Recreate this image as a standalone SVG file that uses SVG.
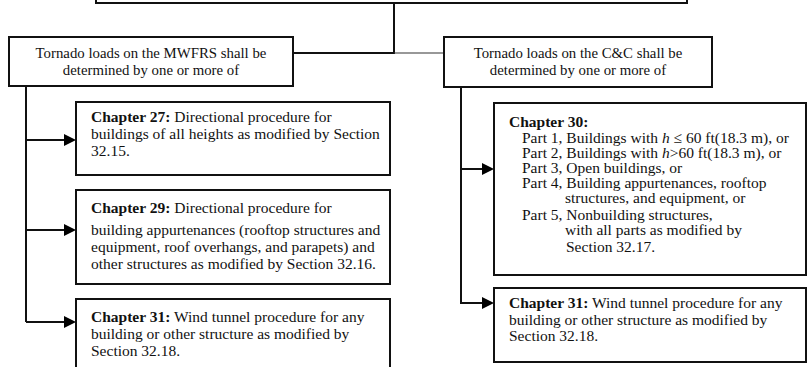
<svg xmlns="http://www.w3.org/2000/svg" width="808" height="367" viewBox="0 0 808 367">
<style>
.box{fill:#fff;stroke:#111;stroke-width:2}
.ln{fill:none;stroke:#111;stroke-width:2}
.thin{fill:none;stroke:#333;stroke-width:1.2}
.ah{fill:#000;stroke:none}
text{font-family:"Liberation Serif","Times New Roman",serif;font-size:15.5px;fill:#111}
.h{font-size:14.8px}
.c{text-anchor:middle}
.b{font-weight:bold}
</style>
<rect width="808" height="367" fill="#fff"/>
<g id="connectors">
<path class="ln" d="M394,3 V53 H293"/>
<path class="thin" d="M394,53 H444"/>
<path class="ln" d="M26,86 V322"/>
<path class="ln" d="M26,140 H66"/>
<path class="ln" d="M26,230 H66"/>
<path class="ln" d="M26,322 H66"/>
<path class="ln" d="M461,87 V303 H484"/>
<path class="ln" d="M461,169 H484"/>
<polygon class="ah" points="64,134 76,140 64,146"/>
<polygon class="ah" points="64,224 76,230 64,236"/>
<polygon class="ah" points="64,316 76,322 64,328"/>
<polygon class="ah" points="482,163 494,169 482,175"/>
<polygon class="ah" points="482,297 494,303 482,309"/>
</g>
<g id="top">
<rect class="box" x="96" y="-20" width="591" height="23"/>
</g>
<g id="mwfrs">
<rect class="box" x="9" y="37" width="284" height="49"/>
<text class="c h" x="151" y="58">Tornado loads on the MWFRS shall be</text>
<text class="c h" x="151" y="75">determined by one or more of</text>
</g>
<g id="cc">
<rect class="box" x="444" y="37" width="268" height="50"/>
<text class="c h" x="578" y="58">Tornado loads on the C&amp;C shall be</text>
<text class="c h" x="578" y="75">determined by one or more of</text>
</g>
<g id="ch27">
<rect class="box" x="76" y="102" width="314" height="73"/>
<text x="91" y="122"><tspan class="b">Chapter 27:</tspan> Directional procedure for</text>
<text x="91" y="139">buildings of all heights as modified by Section</text>
<text x="91" y="156">32.15.</text>
</g>
<g id="ch29">
<rect class="box" x="76" y="190" width="314" height="94"/>
<text x="91" y="213"><tspan class="b">Chapter 29:</tspan> Directional procedure for</text>
<text x="91" y="235">building appurtenances (rooftop structures and</text>
<text x="91" y="252">equipment, roof overhangs, and parapets) and</text>
<text x="91" y="269">other structures as modified by Section 32.16.</text>
</g>
<g id="ch31l">
<rect class="box" x="76" y="299" width="314" height="70"/>
<text x="91" y="322"><tspan class="b">Chapter 31:</tspan> Wind tunnel procedure for any</text>
<text x="91" y="339">building or other structure as modified by</text>
<text x="91" y="356">Section 32.18.</text>
</g>
<g id="ch30">
<rect class="box" x="494" y="103" width="312" height="172"/>
<text x="509" y="127" class="b">Chapter 30:</text>
<text x="522" y="143">Part 1, Buildings with <tspan font-style="italic">h</tspan> ≤ 60 ft(18.3 m), or</text>
<text x="522" y="158">Part 2, Buildings with <tspan font-style="italic">h</tspan>&gt;60 ft(18.3 m), or</text>
<text x="522" y="173">Part 3, Open buildings, or</text>
<text x="522" y="188">Part 4, Building appurtenances, rooftop</text>
<text x="565" y="203">structures, and equipment, or</text>
<text x="522" y="220">Part 5, Nonbuilding structures,</text>
<text x="565" y="235">with all parts as modified by</text>
<text x="566" y="252">Section 32.17.</text>
</g>
<g id="ch31r">
<rect class="box" x="494" y="288" width="312" height="74"/>
<text x="509" y="308"><tspan class="b">Chapter 31:</tspan> Wind tunnel procedure for any</text>
<text x="509" y="325">building or other structure as modified by</text>
<text x="509" y="341">Section 32.18.</text>
</g>
</svg>
